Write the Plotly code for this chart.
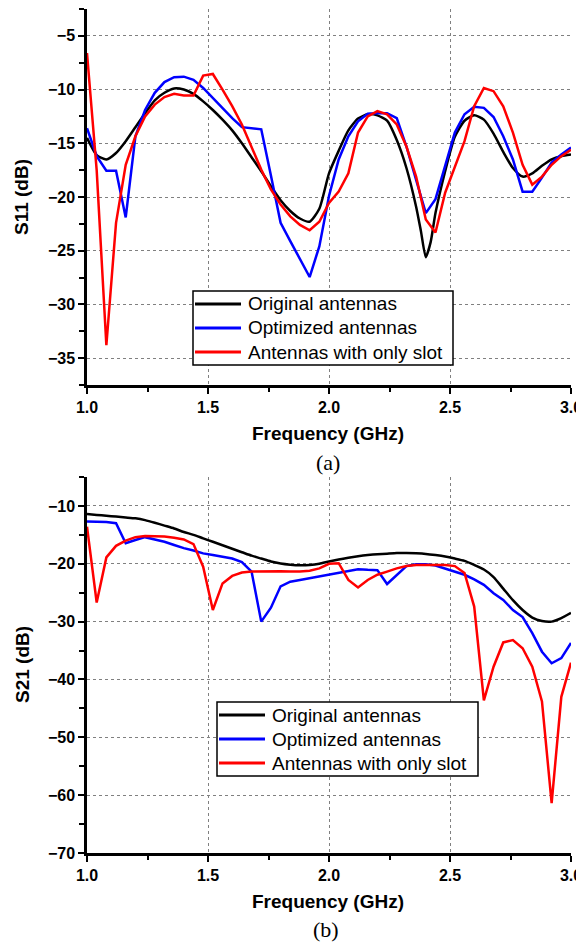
import plotly.graph_objects as go

# ---------------- data ----------------
freq = [1.00, 1.04, 1.08, 1.12, 1.16, 1.20, 1.24, 1.28, 1.32, 1.36,
        1.40, 1.44, 1.48, 1.52, 1.56, 1.60, 1.64, 1.68, 1.72, 1.76,
        1.80, 1.84, 1.88, 1.92, 1.96, 2.00, 2.04, 2.08, 2.12, 2.16,
        2.20, 2.24, 2.28, 2.32, 2.36, 2.40, 2.44, 2.48, 2.52, 2.56,
        2.60, 2.64, 2.68, 2.72, 2.76, 2.80, 2.84, 2.88, 2.92, 2.96, 3.00]

s11_black_freq = [1.00, 1.04, 1.08, 1.12, 1.16, 1.20, 1.24, 1.28, 1.32, 1.36,
                  1.40, 1.44, 1.48, 1.52, 1.56, 1.60, 1.64, 1.68, 1.72, 1.76,
                  1.80, 1.84, 1.88, 1.92, 1.96, 2.00, 2.04, 2.08, 2.12, 2.16,
                  2.20, 2.24, 2.28, 2.32, 2.36, 2.38, 2.40, 2.42, 2.44, 2.48,
                  2.52, 2.56, 2.60, 2.64, 2.68, 2.72, 2.76, 2.80, 2.84, 2.88,
                  2.92, 2.96, 3.00]
s11_original = [-14.5, -16.1, -16.5, -15.9, -14.8, -13.5, -12.2, -11.0, -10.3, -9.9,
                -10.0, -10.4, -11.1, -11.9, -12.8, -13.8, -15.0, -16.3, -17.6, -19.0,
                -20.3, -21.3, -22.0, -22.3, -21.1, -17.8, -15.7, -13.8, -12.7, -12.3,
                -12.4, -12.9, -14.7, -17.3, -20.9, -23.2, -25.6, -24.2, -21.5, -17.6,
                -14.4, -12.9, -12.4, -12.8, -14.1, -15.8, -17.3, -18.1, -17.8, -17.1,
                -16.5, -16.2, -16.05]
s11_optimized = [-13.6, -16.2, -17.55, -17.55, -21.9, -14.35, -11.9, -10.3, -9.3, -8.85,
                 -8.8, -9.1, -9.85, -10.8, -11.7, -12.65, -13.5, -13.6, -13.7, -18.0,
                 -22.4, -24.1, -25.8, -27.45, -24.6, -19.9, -16.5, -14.35, -12.95, -12.25,
                 -12.2, -12.2, -12.65, -15.3, -18.4, -21.5, -20.2, -17.1, -14.0, -12.3,
                 -11.6, -11.7, -12.55, -14.35, -16.5, -19.5, -19.5, -18.2, -16.8, -16.05, -15.4]
s11_slot = [-6.6, -17.5, -33.8, -22.4, -17.0, -14.35, -12.5, -11.4, -10.7, -10.4,
            -10.55, -10.55, -8.7, -8.55, -10.0, -11.55, -13.25, -15.3, -17.45, -19.3,
            -20.7, -21.8, -22.6, -23.1, -22.3, -20.55, -19.5, -17.8, -14.0, -12.5,
            -12.0, -12.3, -13.25, -15.3, -18.1, -22.1, -23.3, -19.6, -17.1, -14.8,
            -11.55, -9.85, -10.15, -11.55, -14.0, -17.0, -18.85, -18.1, -17.0, -16.2, -15.6]

s21_original = [-11.4, -11.55, -11.7, -11.85, -12.0, -12.15, -12.45, -12.9, -13.4, -13.9,
                -14.5, -15.0, -15.6, -16.2, -16.8, -17.4, -18.0, -18.6, -19.1, -19.6,
                -19.95, -20.15, -20.25, -20.2, -20.0, -19.6, -19.25, -18.95, -18.7, -18.5,
                -18.35, -18.25, -18.15, -18.15, -18.2, -18.3, -18.5, -18.75, -19.1, -19.5,
                -20.2, -21.0, -22.3, -24.3, -26.3, -28.0, -29.3, -29.9, -30.0, -29.4, -28.5]
s21_optimized = [-12.7, -12.75, -12.8, -13.0, -16.45, -15.9, -15.4, -15.8, -16.2, -16.75,
                 -17.3, -17.7, -18.2, -18.5, -18.75, -19.1, -19.7, -21.35, -30.0, -27.6,
                 -23.9, -23.1, -22.8, -22.5, -22.2, -21.8, -21.5, -21.2, -20.95, -21.05,
                 -21.1, -23.5, -21.9, -20.4, -20.1, -20.1, -20.3, -20.8, -21.35, -21.9,
                 -22.7, -23.65, -25.1, -26.25, -28.0, -29.2, -32.0, -35.2, -37.2, -36.3, -33.7]
s21_slot = [-13.6, -26.7, -18.9, -16.9, -16.0, -15.4, -15.2, -15.2, -15.3, -15.5,
            -15.8, -16.6, -20.5, -28.0, -23.4, -22.1, -21.5, -21.35, -21.3, -21.3,
            -21.3, -21.35, -21.35, -21.2, -20.8, -20.0, -19.9, -22.8, -24.1, -22.8,
            -21.9, -21.35, -20.8, -20.4, -20.2, -20.2, -20.2, -20.2, -20.4, -21.6,
            -27.4, -43.6, -37.8, -33.6, -33.2, -34.6, -37.8, -43.8, -61.4, -43.0, -37.1]

series_names = ["Original antennas", "Optimized antennas", "Antennas with only slot"]
series_colors = ["#000000", "#0000ff", "#ff0000"]

# ---------------- figure ----------------
# The page body has an 8px margin, so every position below is the reference
# pixel minus 8.
W, H = 576, 934
OFF = 8


def px(x):
    return (x - OFF) / W


def py(y):
    return 1 - (y - OFF) / H


fig = go.Figure()

LW = 2.5
panels = [
    ("x", "y", [(s11_black_freq, s11_original), (freq, s11_optimized), (freq, s11_slot)]),
    ("x2", "y2", [(freq, s21_original), (freq, s21_optimized), (freq, s21_slot)]),
]
for xa, ya, series in panels:
    for i, (xs, ys) in enumerate(series):
        line = dict(color=series_colors[i], width=LW)
        if i == 0:
            line.update(shape="spline", smoothing=0.6)
        fig.add_trace(go.Scatter(x=xs, y=ys, mode="lines", name=series_names[i],
                                 line=line, xaxis=xa, yaxis=ya, showlegend=False))

SANS = "Arial, Liberation Sans, sans-serif"
SERIF = "Times New Roman, Liberation Serif, serif"
tickfont = dict(family=SANS, size=16, color="black", weight="bold")


def axis_style(**kw):
    d = dict(showline=True, linecolor="black", linewidth=2.5, mirror=False,
             ticks="outside", ticklen=6, tickwidth=2, tickcolor="black",
             showgrid=True, gridcolor="#808080", gridwidth=1, griddash="3px,3px",
             zeroline=False, tickfont=tickfont, layer="above traces", automargin=False)
    d.update(kw)
    return d


xdom = [px(87), px(571)]
ydom_top = [py(385), py(9)]
ydom_bot = [py(853), py(477)]

minor_x = dict(dtick=0.25, ticks="outside", ticklen=4, tickwidth=2, tickcolor="black", showgrid=False)

fig.update_layout(
    width=W, height=H,
    margin=dict(l=0, r=0, t=0, b=0, autoexpand=False),
    paper_bgcolor="white", plot_bgcolor="white",
    showlegend=False,
    xaxis=axis_style(domain=xdom, anchor="y", range=[1, 3], tick0=1, dtick=0.5,
                     tickformat=".1f", minor=minor_x),
    yaxis=axis_style(domain=ydom_top, anchor="x", range=[-37.5, -2.5], tick0=-35, dtick=5,
                     minor=dict(dtick=2.5, tick0=-35, ticks="outside", ticklen=5, tickwidth=2,
                                tickcolor="black", showgrid=False)),
    xaxis2=axis_style(domain=xdom, anchor="y2", range=[1, 3], tick0=1, dtick=0.5,
                      tickformat=".1f", minor=minor_x),
    yaxis2=axis_style(domain=ydom_bot, anchor="x2", range=[-70, -5], tick0=-70, dtick=10,
                      minor=dict(dtick=5, tick0=-70, ticks="outside", ticklen=5, tickwidth=2,
                                 tickcolor="black", showgrid=False)),
)

# ---- legends (boxed, drawn in page pixels) ----
legend_font = dict(family=SANS, size=19, color="black")
legend_boxes = [
    # box left, top, right, bottom, sample x0, x1, text x, row centres
    (193, 291, 453, 365, 195, 241, 246, [304, 328, 352]),
    (217, 702, 478, 776, 219, 265, 270, [715, 739, 763]),
]
for (bx0, by0, bx1, by1, lx0, lx1, tx, rows) in legend_boxes:
    fig.add_shape(type="rect", xref="paper", yref="paper",
                  x0=px(bx0), x1=px(bx1), y0=py(by1), y1=py(by0),
                  fillcolor="white", line=dict(color="black", width=1.5), layer="above")
    for i, ry in enumerate(rows):
        fig.add_shape(type="line", xref="paper", yref="paper",
                      x0=px(lx0), x1=px(lx1), y0=py(ry), y1=py(ry),
                      line=dict(color=series_colors[i], width=3), layer="above")
        fig.add_annotation(xref="paper", yref="paper", x=px(tx), y=py(ry),
                           xanchor="left", yanchor="middle", showarrow=False,
                           text=series_names[i], font=legend_font)

title_font = dict(family=SANS, size=19, color="black", weight="bold")
annots = [
    dict(text="S11 (dB)", x=px(22), y=py(197), textangle=-90, font=title_font),
    dict(text="Frequency (GHz)", x=px(328), y=py(433), font=title_font),
    dict(text="(a)", x=px(328), y=py(462), font=dict(family=SERIF, size=22, color="black")),
    dict(text="S21 (dB)", x=px(22), y=py(665), textangle=-90, font=title_font),
    dict(text="Frequency (GHz)", x=px(328), y=py(901), font=title_font),
    dict(text="(b)", x=px(326), y=py(929), font=dict(family=SERIF, size=22, color="black")),
]
for a in annots:
    fig.add_annotation(xref="paper", yref="paper", xanchor="center", yanchor="middle",
                       showarrow=False, **a)

fig.write_html("out.html")
